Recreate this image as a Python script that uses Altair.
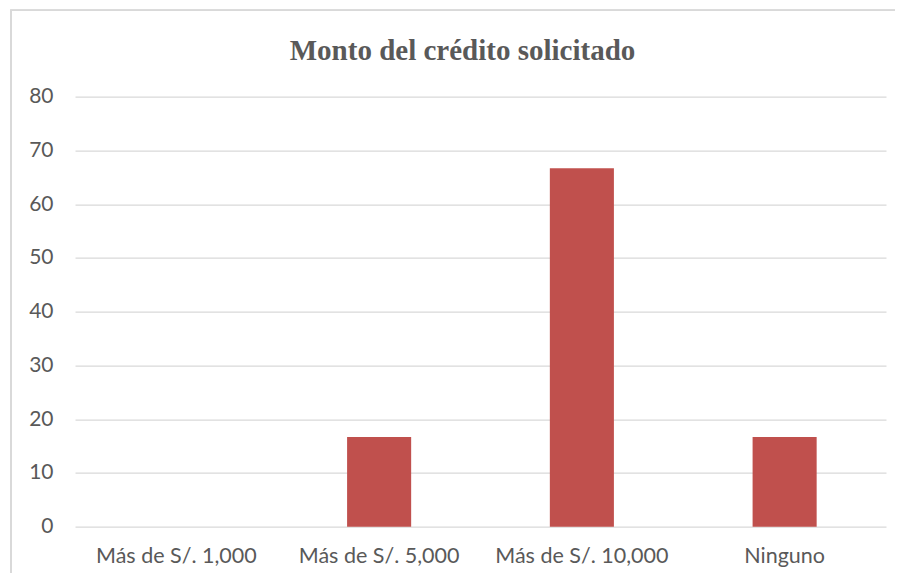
import altair as alt
import pandas as pd

categories = ["Más de S/. 1,000", "Más de S/. 5,000", "Más de S/. 10,000", "Ninguno"]
values = [0, 16.67, 66.67, 16.67]
y_ticks = [0, 10, 20, 30, 40, 50, 60, 70, 80]

df = pd.DataFrame({"categoria": categories, "valor": values})

bars = alt.Chart(df).mark_bar(color="#C0504D").encode(
    x=alt.X("categoria:N", sort=categories, title=None,
            scale=alt.Scale(paddingInner=0.684, paddingOuter=0.342),
            axis=alt.Axis(labelAngle=0, labelFont="Lato", labelFontSize=21.5,
                          labelColor="#595959", domain=False, ticks=False,
                          labelPadding=19, grid=False)),
    y=alt.Y("valor:Q", title=None,
            scale=alt.Scale(domain=[0, 80], nice=False),
            axis=alt.Axis(values=y_ticks, labelFont="Lato", labelFontSize=21,
                          labelColor="#595959", domain=False, ticks=False,
                          labelPadding=22, grid=True, gridColor="#D9D9D9",
                          gridWidth=1.3)),
)

frame = alt.Chart(df).mark_rect(fill=None, stroke="#D9D9D9", strokeWidth=1.5).encode(
    x=alt.value(-64), x2=alt.value(900), y=alt.value(-86.5), y2=alt.value(600)
)

chart = alt.layer(frame, bars).properties(
    width=811,
    height=430,
    title=alt.TitleParams(
        "Monto del crédito solicitado",
        font="Liberation Serif", fontSize=29, fontWeight="bold", color="#595959",
        anchor="middle", frame="group", baseline="alphabetic", offset=-80, dx=-18,
    ),
    autosize=alt.AutoSizeParams(type="none"),
    padding={"left": 67, "top": 88.7, "right": 9, "bottom": 46.3},
).configure_view(stroke=None)

chart.save("out.html", embed_options={"renderer": "svg", "actions": False})
